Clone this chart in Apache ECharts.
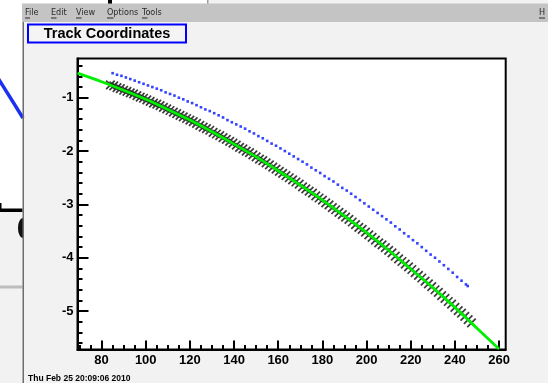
<!DOCTYPE html>
<html>
<head>
<meta charset="utf-8">
<script src="https://cdn.jsdelivr.net/npm/echarts@6/dist/echarts.min.js"></script>
<style>
html,body{margin:0;padding:0;background:#f2f2f2;}
#c{width:548px;height:383px;}
</style>
</head>
<body>
<div id="c"></div>
<script>
// ---- data ----
const titleText = 'Track Coordinates';
const dateText = 'Thu Feb 25 20:09:06 2010';
const menuItems = ['File', 'Edit', 'View', 'Options', 'Tools'];

const xMajorTicks = [80, 100, 120, 140, 160, 180, 200, 220, 240, 260];
const xMinorTicks = [70, 75, 85, 90, 95, 105, 110, 115, 125, 130, 135, 145, 150, 155, 165, 170, 175, 185, 190, 195, 205, 210, 215, 225, 230, 235, 245, 250, 255];
const yMajorTicks = [-5, -4, -3, -2, -1];
const yMinorTicks = [-5.6, -5.4, -5.2, -4.8, -4.6, -4.4, -4.2, -3.8, -3.6, -3.4, -3.2, -2.8, -2.6, -2.4, -2.2, -1.8, -1.6, -1.4, -1.2, -0.8, -0.6, -0.4];

// fitted track (green line)
const fitLine = [[69.1,-0.54],[80,-0.70],[90,-0.86],[100,-1.03],[110,-1.22],[120,-1.42],[130,-1.64],[140,-1.87],[150,-2.11],[160,-2.37],[170,-2.64],[180,-2.92],[190,-3.22],[200,-3.53],[210,-3.86],[220,-4.21],[230,-4.56],[240,-4.93],[250,-5.32],[260,-5.71]];

// measured hits (black crosses)
const hits = [[84,-0.76],[85.5,-0.78],[87,-0.81],[88.5,-0.83],[90,-0.86],[91.5,-0.88],[93,-0.91],[94.5,-0.93],[96,-0.96],[97.5,-0.99],[99,-1.01],[100.5,-1.04],[102,-1.07],[103.5,-1.10],[105,-1.12],[106.5,-1.15],[108,-1.18],[109.5,-1.21],[111,-1.24],[112.5,-1.27],[114,-1.30],[115.5,-1.33],[117,-1.36],[118.5,-1.39],[120,-1.42],[121.5,-1.45],[123,-1.48],[124.5,-1.52],[126,-1.55],[127.5,-1.58],[129,-1.61],[130.5,-1.65],[132,-1.68],[133.5,-1.71],[135,-1.75],[136.5,-1.78],[138,-1.82],[139.5,-1.85],[141,-1.89],[142.5,-1.93],[144,-1.96],[145.5,-2.00],[147,-2.03],[148.5,-2.07],[150,-2.11],[151.5,-2.15],[153,-2.18],[154.5,-2.22],[156,-2.26],[157.5,-2.30],[159,-2.34],[160.5,-2.38],[162,-2.42],[163.5,-2.46],[165,-2.50],[166.5,-2.54],[168,-2.58],[169.5,-2.62],[171,-2.67],[172.5,-2.71],[174,-2.75],[175.5,-2.79],[177,-2.84],[178.5,-2.88],[180,-2.92],[181.5,-2.97],[183,-3.01],[184.5,-3.06],[186,-3.10],[187.5,-3.15],[189,-3.19],[190.5,-3.24],[192,-3.28],[193.5,-3.33],[195,-3.38],[196.5,-3.43],[198,-3.47],[199.5,-3.52],[201,-3.57],[202.5,-3.62],[204,-3.67],[205.5,-3.72],[207,-3.76],[208.5,-3.81],[210,-3.86],[211.5,-3.91],[213,-3.97],[214.5,-4.02],[216,-4.07],[217.5,-4.12],[219,-4.17],[220.5,-4.22],[222,-4.28],[223.5,-4.33],[225,-4.38],[226.5,-4.44],[228,-4.49],[229.5,-4.54],[231,-4.60],[232.5,-4.65],[234,-4.71],[235.5,-4.76],[237,-4.82],[238.5,-4.87],[240,-4.93],[241.5,-4.99],[243,-5.04],[244.5,-5.10],[246,-5.16],[247.5,-5.22]];

// second set (blue dots)
const blueHits = [[85,-0.54],[87,-0.57],[89,-0.59],[91,-0.62],[93,-0.65],[95,-0.68],[97,-0.71],[99,-0.74],[101,-0.77],[103,-0.80],[105,-0.83],[107,-0.86],[109,-0.90],[111,-0.93],[113,-0.96],[115,-1.00],[117,-1.03],[119,-1.07],[121,-1.10],[123,-1.14],[125,-1.18],[127,-1.22],[129,-1.25],[131,-1.29],[133,-1.33],[135,-1.37],[137,-1.42],[139,-1.46],[141,-1.50],[143,-1.54],[145,-1.58],[147,-1.63],[149,-1.67],[151,-1.72],[153,-1.76],[155,-1.81],[157,-1.86],[159,-1.90],[161,-1.95],[163,-2.00],[165,-2.05],[167,-2.10],[169,-2.15],[171,-2.20],[173,-2.25],[175,-2.31],[177,-2.36],[179,-2.41],[181,-2.47],[183,-2.52],[185,-2.57],[187,-2.63],[189,-2.69],[191,-2.74],[193,-2.80],[195,-2.86],[197,-2.92],[199,-2.98],[201,-3.04],[203,-3.10],[205,-3.16],[207,-3.22],[209,-3.28],[211,-3.34],[213,-3.41],[215,-3.47],[217,-3.54],[219,-3.60],[221,-3.67],[223,-3.73],[225,-3.80],[227,-3.87],[229,-3.94],[231,-4.00],[233,-4.07],[235,-4.14],[237,-4.21],[239,-4.28],[241,-4.36],[243,-4.43],[245,-4.50],[245.8,-4.53]];

const xRange = [69.1, 263];
const yRange = [-5.72, -0.265];

// ---- chart ----
const chart = echarts.init(document.getElementById('c'), null, {renderer: 'canvas'});
const FONT = '"Liberation Sans", Arial, Helvetica, sans-serif';

function xAxisCfg(major) {
  return {
    type: 'value', min: xRange[0], max: xRange[1], position: 'bottom',
    axisLine: {show: major, onZero: false, lineStyle: {color: '#000', width: 2}},
    axisTick: {show: true, inside: true, length: major ? 9 : 4.5, customValues: major ? xMajorTicks : xMinorTicks,
      lineStyle: {color: '#000', width: 2}},
    axisLabel: {show: major, customValues: xMajorTicks, margin: 4, color: '#000',
      fontFamily: FONT, fontWeight: 'bold', fontSize: 13},
    splitLine: {show: false}
  };
}
function yAxisCfg(major) {
  return {
    type: 'value', min: yRange[0], max: yRange[1], position: 'left',
    axisLine: {show: major, onZero: false, lineStyle: {color: '#000', width: 2}},
    axisTick: {show: true, inside: true, length: major ? 11 : 5, customValues: major ? yMajorTicks : yMinorTicks,
      lineStyle: {color: '#000', width: 2}},
    axisLabel: {show: major, customValues: yMajorTicks, margin: 4, color: '#000',
      fontFamily: FONT, fontWeight: 'bold', fontSize: 13},
    splitLine: {show: false}
  };
}

const menuX = [25, 51, 76, 107, 142];
const menuUnder = [5, 5.5, 5.5, 6.5, 5.5];
const MENUFONT = '9px "Liberation Sans Narrow", "DejaVu Sans Condensed", ' + FONT;
const graphics = [
  // top strip and left background window
  {type: 'rect', shape: {x: 0, y: 0, width: 208, height: 4}, style: {fill: '#ffffff'}, z: 1},
  {type: 'rect', shape: {x: 108, y: 0, width: 4, height: 4}, style: {fill: '#000'}, z: 2},
  {type: 'rect', shape: {x: 207, y: 0, width: 1.5, height: 4}, style: {fill: '#9a9a9a'}, z: 2},
  {type: 'rect', shape: {x: 0, y: 0, width: 22.5, height: 210}, style: {fill: '#ffffff'}, z: 1},
  {type: 'line', shape: {x1: -2, y1: 78, x2: 23, y2: 118}, style: {stroke: '#1a2ff0', lineWidth: 3.5}, z: 2},
  {type: 'rect', shape: {x: 0, y: 208.5, width: 22.5, height: 3.5}, style: {fill: '#000'}, z: 2},
  {type: 'rect', shape: {x: 0, y: 203, width: 1.5, height: 7}, style: {fill: '#000'}, z: 2},
  {type: 'ellipse', shape: {cx: 23, cy: 228, rx: 5, ry: 10}, style: {fill: '#111'}, z: 2},
  {type: 'rect', shape: {x: 23, y: 214, width: 10, height: 30}, style: {fill: '#f2f2f2'}, z: 2.5},
  {type: 'rect', shape: {x: 0, y: 285.5, width: 22.5, height: 3}, style: {fill: '#bdbdbd'}, z: 2},
  {type: 'rect', shape: {x: 22.5, y: 22, width: 1.5, height: 361}, style: {fill: '#6e6e6e'}, z: 3},
  // menu bar
  {type: 'rect', shape: {x: 22, y: 3.5, width: 526, height: 18.5}, style: {fill: '#c4c4c4'}, z: 3},
  // title box
  {type: 'rect', shape: {x: 28, y: 24.5, width: 158, height: 18}, style: {fill: '#f4f4f4', stroke: '#0000ff', lineWidth: 2}, z: 3},
  {type: 'text', x: 107, y: 34, style: {text: titleText, fill: '#000', font: 'bold 14.5px ' + FONT, textAlign: 'center', textVerticalAlign: 'middle'}, z: 4},
  // date
  {type: 'text', x: 28, y: 378.5, style: {text: dateText, fill: '#000', font: 'bold 8.5px ' + FONT, textAlign: 'left', textVerticalAlign: 'middle'}, z: 4}
];
menuItems.forEach((m, i) => {
  graphics.push({type: 'text', x: menuX[i], y: 13, style: {text: m, fill: '#2a2a2a', font: MENUFONT, textAlign: 'left', textVerticalAlign: 'middle'}, z: 4});
  graphics.push({type: 'line', shape: {x1: menuX[i], y1: 18, x2: menuX[i] + menuUnder[i], y2: 18}, style: {stroke: '#2a2a2a', lineWidth: 1}, z: 4});
});
graphics.push({type: 'text', x: 539, y: 13, style: {text: 'H', fill: '#2a2a2a', font: MENUFONT, textAlign: 'left', textVerticalAlign: 'middle'}, z: 4});
graphics.push({type: 'line', shape: {x1: 539, y1: 18, x2: 545, y2: 18}, style: {stroke: '#2a2a2a', lineWidth: 1}, z: 4});

chart.setOption({
  animation: false,
  backgroundColor: '#f2f2f2',
  grid: {left: 77.5, right: 42.3, top: 58.5, bottom: 33.5, show: true, backgroundColor: '#ffffff',
    borderColor: '#000', borderWidth: 2, containLabel: false},
  xAxis: [xAxisCfg(true), xAxisCfg(false)],
  yAxis: [yAxisCfg(true), yAxisCfg(false)],
  graphic: graphics,
  series: [
    {type: 'scatter', name: 'hits', data: hits, xAxisIndex: 0, yAxisIndex: 0,
      symbol: 'path://M0,0L10,10M10,0L0,10', symbolSize: 8.5,
      itemStyle: {color: 'rgba(0,0,0,0)', borderColor: '#1a1a1a', borderWidth: 1.7, opacity: 0.85},
      emphasis: {disabled: true}, silent: true},
    {type: 'line', name: 'fit', data: fitLine, xAxisIndex: 0, yAxisIndex: 0, smooth: 0.3,
      showSymbol: false, symbol: 'none', lineStyle: {color: '#00ee00', width: 2.8}, clip: true, silent: true},
    {type: 'scatter', name: 'blue', data: blueHits, xAxisIndex: 0, yAxisIndex: 0,
      symbol: 'rect', symbolSize: 2.6, itemStyle: {color: '#0014ff'}, silent: true}
  ]
});
</script>
</body>
</html>
